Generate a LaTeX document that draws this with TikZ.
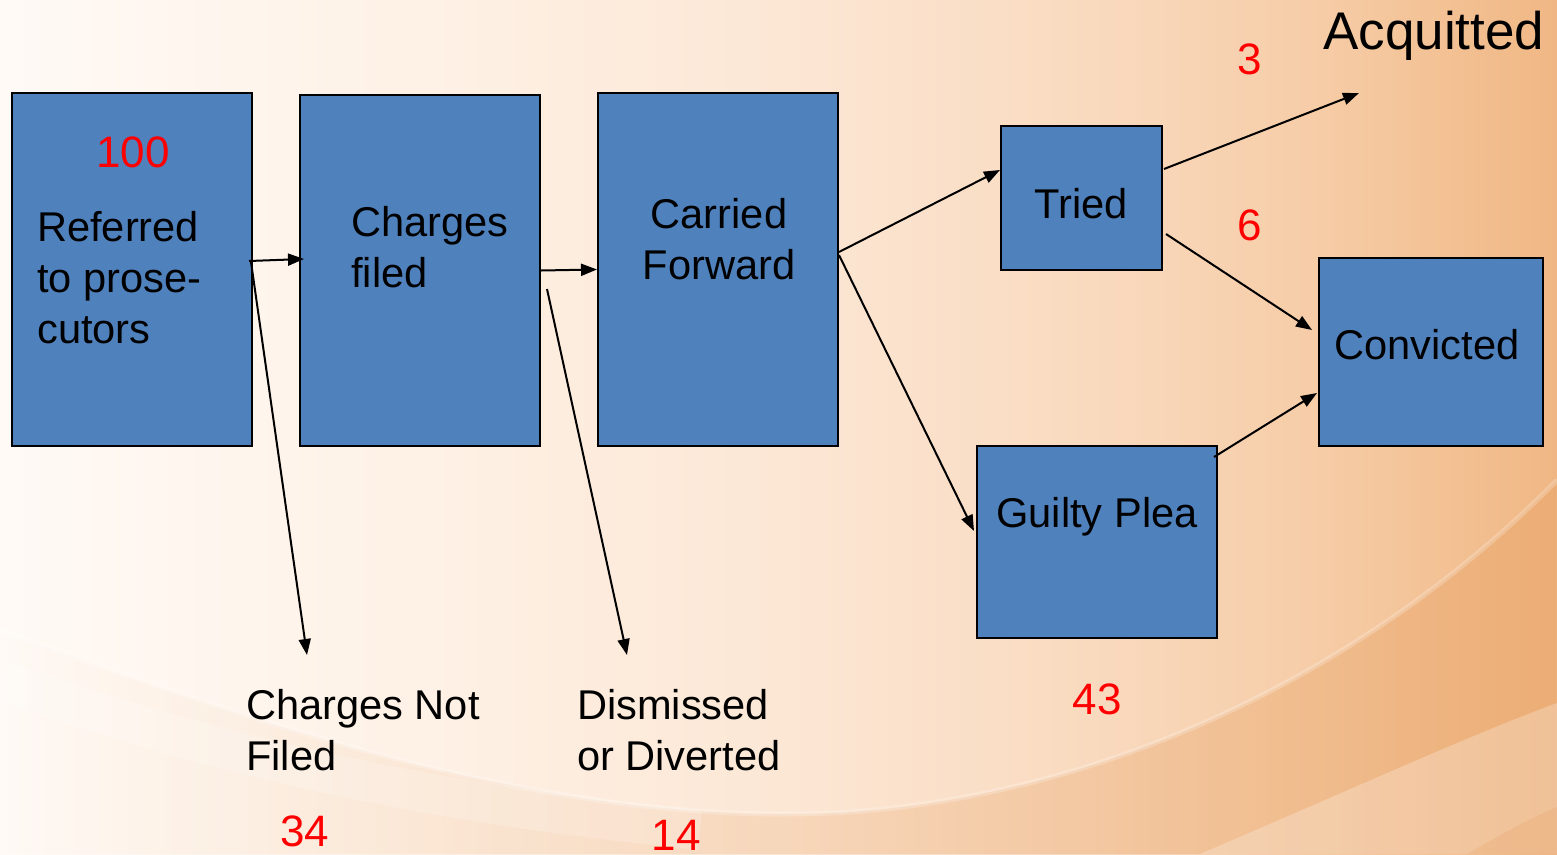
\documentclass[tikz,border=0pt]{standalone}
\usepackage{fontspec}
\setmainfont{Liberation Sans}
\usetikzlibrary{arrows.meta,calc,fadings}

\definecolor{boxblue}{HTML}{4F81BD}
\definecolor{numred}{HTML}{FF0000}
\definecolor{bandorange}{HTML}{E8A264}
\definecolor{bgA}{HTML}{FFFAF6}
\definecolor{bgB}{HTML}{FEF2E7}
\definecolor{bgC}{HTML}{FCE7D5}
\definecolor{bgD}{HTML}{F9DABF}
\definecolor{bgE}{HTML}{F6CCA6}
\definecolor{bgF}{HTML}{F0B784}

% warm left-to-right backdrop (ramp lies in the central 25bp..75bp)
\pgfdeclarehorizontalshading{warmbackdrop}{100bp}{%
  color(0bp)=(bgA); color(25bp)=(bgA); color(37.5bp)=(bgB);
  color(50bp)=(bgC); color(60bp)=(bgD); color(67.5bp)=(bgE);
  color(75bp)=(bgF); color(100bp)=(bgF)}
\tikzfading[name=fadeinright, left color=transparent!100, right color=transparent!0]

\tikzset{
  box/.style={draw=black, line width=2pt, fill=boxblue, inner sep=0pt},
  lbl/.style={font=\fontsize{41.6}{51}\selectfont, inner sep=0pt, align=left},
  num/.style={font=\fontsize{44}{50}\selectfont, text=numred, inner sep=0pt},
  flow/.style={draw=black, line width=2pt, -{Triangle[length=16pt,width=12pt]}},
}

\begin{document}
\begin{tikzpicture}[x=1pt, y=-1pt]
\useasboundingbox (0,0) rectangle (1557,854);

% backdrop with sweeping bands
\begin{scope}
  \clip (0,0) rectangle (1557,854);
  \shade[shading=warmbackdrop] (0,0) rectangle (1557,854);
  \fill[bandorange, fill opacity=0.45, path fading=fadeinright]
    (0,630) .. controls (250,720) and (550,830) .. (850,812)
    .. controls (1150,790) and (1400,640) .. (1557,480)
    -- (1557,854) -- (0,854) -- cycle;
  \draw[white, opacity=0.22, line width=5pt]
    (0,630) .. controls (250,720) and (550,830) .. (850,812)
    .. controls (1150,790) and (1400,640) .. (1557,480);
  \draw[white, opacity=0.18, line width=40pt]
    (0,680) .. controls (200,750) and (400,800) .. (700,830);
  \fill[white, fill opacity=0.25]
    (1200,854) .. controls (1350,790) and (1470,735) .. (1557,703)
    -- (1557,854) -- cycle;
  \fill[bandorange, fill opacity=0.25]
    (1467,854) .. controls (1500,835) and (1530,818) .. (1557,807)
    -- (1557,854) -- cycle;
\end{scope}

% stage boxes
\node[box, minimum width=240pt, minimum height=353pt] (ref)   at (132,269.5) {};
\node[box, minimum width=240pt, minimum height=351pt] (chg)   at (420,270.5) {};
\node[box, minimum width=240pt, minimum height=353pt] (fwd)   at (718,269.5) {};
\node[box, minimum width=161pt, minimum height=144pt] (tried) at (1081.5,198) {};
\node[box, minimum width=224pt, minimum height=188pt] (conv)  at (1431,352) {};
\node[box, minimum width=240pt, minimum height=192pt] (plea)  at (1097,542) {};

% box texts (multi-line nodes are anchored on their last baseline)
\node[num, anchor=base] (n100) at (133,167) {100};
\node[lbl, anchor=base west] (refT) at (37,343) {Referred\\to prose-\\cutors};
\node[lbl, anchor=base west] (chgT) at (351,287) {Charges\\filed};
\node[lbl, anchor=base, align=center] (fwdT) at (719,279) {Carried\\Forward};
\node[lbl, anchor=base] (triedT) at (1081,218) {Tried};
\node[lbl, anchor=base] (convT) at (1427,359) {Convicted};
\node[lbl, anchor=base] (pleaT) at (1097,527) {Guilty Plea};

% outcomes and counts
\node[lbl, anchor=base west, font=\fontsize{53}{60}\selectfont] (acqT) at (1323,49) {Acquitted};
\node[num, anchor=base] (n3) at (1250,74) {3};
\node[num, anchor=base] (n6) at (1250,240) {6};
\node[lbl, anchor=base west] (notT) at (246,770) {Charges Not\\Filed};
\node[num, anchor=base] (n34) at (305,846) {34};
\node[lbl, anchor=base west] (disT) at (577,770) {Dismissed\\or Diverted};
\node[num, anchor=base] (n14) at (676,850) {14};
\node[num, anchor=base] (n43) at (1097,714) {43};

% flows
\draw[flow] ($(ref.east)+(-4,-8.5)$) -- ($(chg.west)+(5,-11.5)$);
\draw[flow] ($(ref.east)+(-2,-7.5)$) -- ($(notT.base west)+(61,-115)$);
\draw[flow] (chg.east) -- (fwd.west);
\draw[flow] ($(chg.east)+(6,18.5)$) -- ($(disT.base west)+(50,-115)$);
\draw[flow] ($(fwd.east)+(0,-17.5)$) -- ($(tried.west)+(0,-28)$);
\draw[flow] ($(fwd.east)+(0,-14.5)$) -- ($(plea.west)+(-2,-11)$);
\draw[flow] ($(tried.east)+(1,-29)$) -- ($(acqT.base west)+(36,44)$);
\draw[flow] ($(tried.east)+(3,36)$) -- ($(conv.west)+(-6,-22)$);
\draw[flow] ($(plea.north east)+(-4,12)$) -- ($(conv.west)+(-1,41)$);
\end{tikzpicture}
\end{document}
